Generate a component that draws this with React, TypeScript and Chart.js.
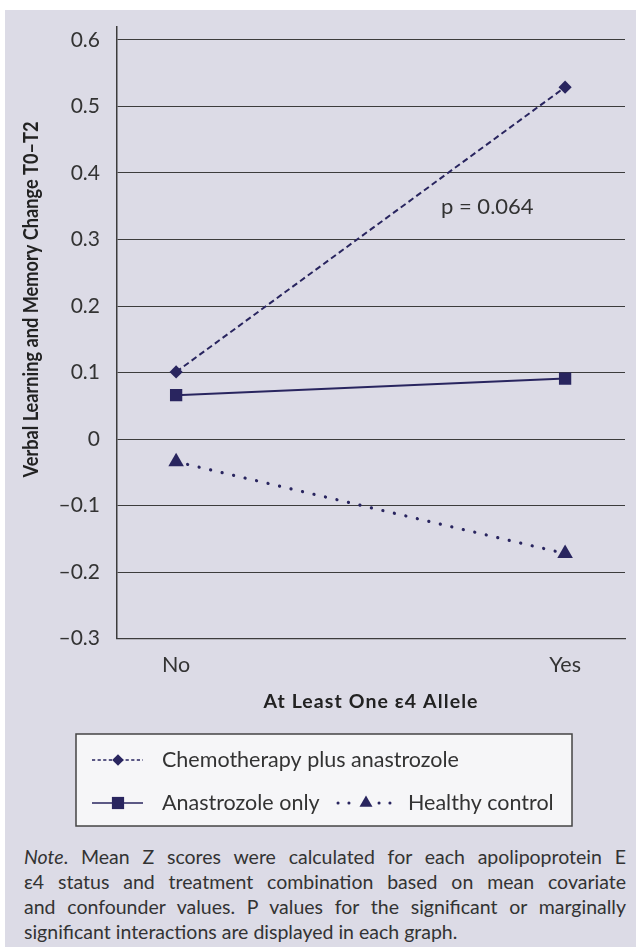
import React, { useEffect, useRef } from 'react';
import { Chart, registerables } from 'chart.js';

Chart.register(...registerables);

// ---- data ----
const categories = ['No', 'Yes'];
const categoryX = [0, 1];
const seriesNames = ['Chemotherapy plus anastrozole', 'Anastrozole only', 'Healthy control'];
const chemoValues = [0.101, 0.529];
const anastrozoleValues = [0.066, 0.091];
const healthyValues = [-0.034, -0.172];
const yTickValues = [-0.3, -0.2, -0.1, 0, 0.1, 0.2, 0.3, 0.4, 0.5, 0.6];
const yTickLabels = ['–0.3', '–0.2', '–0.1', '0', '0.1', '0.2', '0.3', '0.4', '0.5', '0.6'];
const yTitle = 'Verbal Learning and Memory Change T0–T2';
const xTitle = 'At Least One ε4 Allele';
const pLabel = 'p = 0.064';
const pLabelAt = [0.681, 0.338];
const noteLead = 'Note';
const noteLines = [
  '. Mean Z scores were calculated for each apolipoprotein E',
  'ε4 status and treatment combination based on mean covariate',
  'and confounder values. P values for the significant or marginally',
  'significant interactions are displayed in each graph.',
];

// ---- style ----
const NAVY = '#29255f';
const TEXT = '#333333';
const GRID = '#3c3c3c';
const FONT = 'Lato, "Open Sans", sans-serif';

type Shape = 'rectRot' | 'rect' | 'triangle';

function drawShape(ctx: CanvasRenderingContext2D, shape: Shape, x: number, y: number, r: number) {
  ctx.beginPath();
  if (shape === 'rectRot') {
    ctx.moveTo(x, y - r);
    ctx.lineTo(x + r, y);
    ctx.lineTo(x, y + r);
    ctx.lineTo(x - r, y);
  } else if (shape === 'rect') {
    ctx.rect(x - r, y - r, 2 * r, 2 * r);
  } else {
    const h = r * 1.5;
    ctx.moveTo(x, y - r);
    ctx.lineTo(x + r * 0.866, y + h - r);
    ctx.lineTo(x - r * 0.866, y + h - r);
  }
  ctx.closePath();
  ctx.fill();
}

// legend sample geometry (canvas px): line segments, marker position, text x
const legendEntries = [
  { row: 750, segs: [[87, 138]], mx: 113, tx: 157, dash: [3.2, 2.4], w: 1.4, r: 5.8, cap: 'butt' },
  { row: 793, segs: [[87, 138]], mx: 113, tx: 157, dash: [], w: 1.6, r: 6.1, cap: 'butt' },
  { row: 793, segs: [[333, 345], [374, 386]], mx: 361, tx: 403, dash: [0.1, 10.8], w: 3, r: 7.5, cap: 'round' },
];

const decorPlugin = {
  id: 'decor',
  afterDraw(chart: any) {
    const ctx: CanvasRenderingContext2D = chart.ctx;
    const xs = chart.scales.x;
    const ys = chart.scales.y;
    ctx.save();
    // p label
    ctx.font = `22px ${FONT}`;
    ctx.fillStyle = TEXT;
    ctx.textAlign = 'left';
    ctx.textBaseline = 'alphabetic';
    ctx.fillText(pLabel, xs.getPixelForValue(pLabelAt[0]), ys.getPixelForValue(pLabelAt[1]));

    // x title
    ctx.save();
    ctx.font = `bold 19.5px ${FONT}`;
    (ctx as any).letterSpacing = '1.1px';
    ctx.fillStyle = '#222';
    ctx.textAlign = 'center';
    ctx.textBaseline = 'alphabetic';
    ctx.fillText(xTitle, (xs.left + xs.right) / 2, 697.5);
    ctx.restore();

    // y title
    ctx.save();
    ctx.translate(33.3, 289.5);
    ctx.rotate(-Math.PI / 2);
    ctx.font = `bold 21px ${FONT}`;
    ctx.fillStyle = '#222';
    ctx.textAlign = 'center';
    ctx.textBaseline = 'alphabetic';
    ctx.fillText(yTitle, 0, 0, 356);
    ctx.restore();

    // legend box
    ctx.fillStyle = '#f6f6f8';
    ctx.fillRect(71, 724, 496, 92);
    ctx.strokeStyle = '#444';
    ctx.lineWidth = 1.5;
    ctx.strokeRect(71, 724, 496, 92);

    chart.data.datasets.forEach((ds: any, i: number) => {
      const e = legendEntries[i];
      ctx.save();
      ctx.strokeStyle = ds.borderColor;
      ctx.fillStyle = ds.backgroundColor;
      ctx.lineWidth = e.w;
      ctx.lineCap = e.cap as CanvasLineCap;
      ctx.setLineDash(e.dash);
      e.segs.forEach(([a, b]) => {
        ctx.beginPath();
        ctx.moveTo(a, e.row);
        ctx.lineTo(b, e.row);
        ctx.stroke();
      });
      ctx.setLineDash([]);
      drawShape(ctx, ds.pointStyle, e.mx, e.row, e.r);
      ctx.font = `21.5px ${FONT}`;
      ctx.fillStyle = TEXT;
      ctx.textAlign = 'left';
      ctx.textBaseline = 'middle';
      ctx.fillText(ds.label, e.tx, e.row);
      ctx.restore();
    });
    ctx.restore();
  },
};

export default function App() {
  const ref = useRef<HTMLCanvasElement | null>(null);

  useEffect(() => {
    if (!ref.current) return;
    const toPts = (vals: number[]) => categoryX.map((x, i) => ({ x, y: vals[i] }));
    const chart = new Chart(ref.current, {
      type: 'scatter',
      data: {
        datasets: [
          {
            label: seriesNames[0],
            data: toPts(chemoValues),
            showLine: true,
            borderColor: NAVY,
            backgroundColor: NAVY,
            borderWidth: 2,
            borderDash: [6, 3.6],
            pointStyle: 'rectRot',
            pointRadius: 6.6,
            pointBorderWidth: 0,
          },
          {
            label: seriesNames[1],
            data: toPts(anastrozoleValues),
            showLine: true,
            borderColor: NAVY,
            backgroundColor: NAVY,
            borderWidth: 2,
            pointStyle: 'rect',
            pointRadius: 8.7,
            pointBorderWidth: 0,
          },
          {
            label: seriesNames[2],
            data: toPts(healthyValues),
            showLine: true,
            borderColor: NAVY,
            backgroundColor: NAVY,
            borderWidth: 3.2,
            borderDash: [0.1, 11.7],
            borderCapStyle: 'round',
            pointStyle: 'triangle',
            pointRadius: 9,
            pointBorderWidth: 0,
          },
        ] as any,
      },
      options: {
        animation: false,
        responsive: false,
        devicePixelRatio: 1,
        layout: { padding: { left: 0, right: 11, top: 17, bottom: 128.5 } },
        plugins: { legend: { display: false }, tooltip: { enabled: false } },
        scales: {
          x: {
            type: 'linear',
            min: -0.152,
            max: 1.154,
            afterBuildTicks: (s: any) => {
              s.ticks = categoryX.map((v) => ({ value: v }));
            },
            afterFit: (s: any) => {
              s.height = 72.8;
              s.paddingLeft = 0;
              s.paddingRight = 0;
            },
            ticks: {
              callback: (_v: any, i: number) => categories[i],
              font: { family: FONT, size: 21.5 },
              color: TEXT,
              padding: 13,
              maxRotation: 0,
            },
            grid: { display: false, drawTicks: false },
            border: { display: true, color: GRID, width: 1.3 },
            title: { display: false },
          },
          y: {
            type: 'linear',
            min: -0.3,
            max: 0.6195,
            afterBuildTicks: (s: any) => {
              s.ticks = yTickValues.map((v) => ({ value: v }));
            },
            afterFit: (s: any) => {
              s.width = 112;
              s.paddingTop = 0;
              s.paddingBottom = 0;
            },
            ticks: {
              callback: (_v: any, i: number) => yTickLabels[i],
              font: { family: FONT, size: 21 },
              color: TEXT,
              padding: 17,
            },
            grid: { color: GRID, lineWidth: 1.1, drawTicks: false },
            border: { display: true, color: GRID, width: 1.5 },
          },
        },
      } as any,
      plugins: [decorPlugin],
    });
    return () => chart.destroy();
  }, []);

  return (
    <div
      style={{
        position: 'absolute',
        left: 5,
        top: 10,
        width: 631,
        height: 937,
        background: '#dcdbe6',
        overflow: 'hidden',
      }}
    >
      <canvas ref={ref} width={631} height={830} style={{ width: 631, height: 830, display: 'block' }} />
      <div
        style={{
          position: 'absolute',
          left: 19,
          top: 834,
          width: 602,
          fontFamily: FONT,
          fontSize: 19.5,
          lineHeight: '25px',
          color: TEXT,
        }}
      >
        {noteLines.map((line, i) => (
          <div
            key={i}
            style={{
              textAlign: i < noteLines.length - 1 ? 'justify' : 'left',
              textAlignLast: i < noteLines.length - 1 ? 'justify' : 'left',
              whiteSpace: 'nowrap',
            } as any}
          >
            {i === 0 ? <i>{noteLead}</i> : null}
            {line}
          </div>
        ))}
      </div>
    </div>
  );
}
